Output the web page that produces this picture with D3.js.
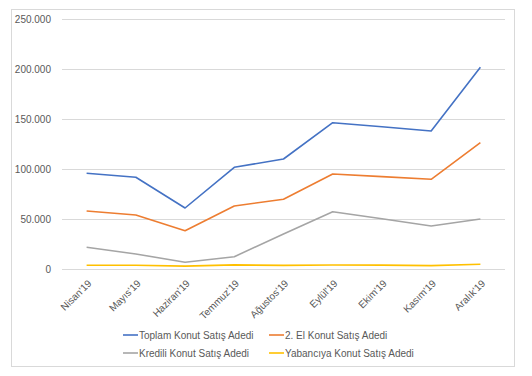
<!DOCTYPE html>
<html><head><meta charset="utf-8">
<script src="https://cdn.jsdelivr.net/npm/d3@7"></script>
<style>body{margin:0;background:#fff}svg{display:block}text{font-family:"Liberation Sans",Arial,sans-serif;fill:#595959}</style>
</head><body><svg id="c" width="532" height="376"></svg>
<script>
const categories = ["Nisan'19","Mayıs'19","Haziran'19","Temmuz'19","Ağustos'19","Eylül'19","Ekim'19","Kasım'19","Aralık'19"];
const seriesNames = ["Toplam Konut Satış Adedi","2. El Konut Satış Adedi","Kredili Konut Satış Adedi","Yabancıya Konut Satış Adedi"];
const toplam = [95700, 91700, 61000, 101700, 110000, 146300, 142300, 138000, 201700];
const ikinciEl = [58000, 54000, 38300, 63000, 69700, 95000, 92400, 89700, 126300];
const kredili = [21700, 15000, 6700, 12300, 35000, 57300, 50200, 43000, 50000];
const yabanci = [3700, 3700, 2900, 4100, 3600, 4000, 3900, 3400, 4800];
const yTicks = [0, 50000, 100000, 150000, 200000, 250000];
const colors = ["#4472C4","#ED7D31","#A5A5A5","#FFC000"];

const svg = d3.select("#c");
svg.append("rect").attr("x",11.5).attr("y",9.5).attr("width",503).attr("height",357).attr("fill","#fff").attr("stroke","#D9D9D9");

const x = d3.scalePoint().domain(categories).range([62,505]).padding(0.5);
const y = d3.scaleLinear().domain([0,250000]).range([269,19]);
const fmt = v => v === 0 ? "0" : d3.format(",.0f")(v).replace(/,/g,".");

const yAxis = svg.append("g").attr("transform","translate(62,0)")
  .call(d3.axisLeft(y).tickValues(yTicks).tickSize(-443).tickPadding(11).tickFormat(fmt));
yAxis.select(".domain").remove();
yAxis.selectAll("line").attr("stroke","#D9D9D9");
yAxis.selectAll("text").attr("font-size",10).attr("fill","#595959").style("font-family","Liberation Sans, Arial, sans-serif");

const xAxis = svg.append("g").attr("transform","translate(0,269)")
  .call(d3.axisBottom(x).tickSize(0).tickPadding(0));
xAxis.select(".domain").remove();
xAxis.selectAll("text").attr("font-size",10).attr("fill","#595959")
  .style("font-family","Liberation Sans, Arial, sans-serif")
  .attr("text-anchor","end").attr("dy",null).attr("y",0)
  .attr("transform","translate(5,15) rotate(-45)");

const all = [toplam, ikinciEl, kredili, yabanci];
const line = d3.line().x((d,i)=>x(categories[i])).y(d=>y(d));
all.forEach((s,k)=>{
  svg.append("path").datum(s).attr("d",line).attr("fill","none")
    .attr("stroke",colors[k]).attr("stroke-width",1.6).attr("stroke-linejoin","round");
});

const legendPos = [[123,335],[269,335],[123,353],[269,353]];
seriesNames.forEach((n,k)=>{
  const [lx,ly] = legendPos[k];
  svg.append("line").attr("x1",lx).attr("x2",lx+15).attr("y1",ly).attr("y2",ly)
    .attr("stroke",colors[k]).attr("stroke-width",1.6);
  svg.append("text").attr("x",lx+16).attr("y",ly+3.5).attr("font-size",10).text(n);
});
</script></body></html>
